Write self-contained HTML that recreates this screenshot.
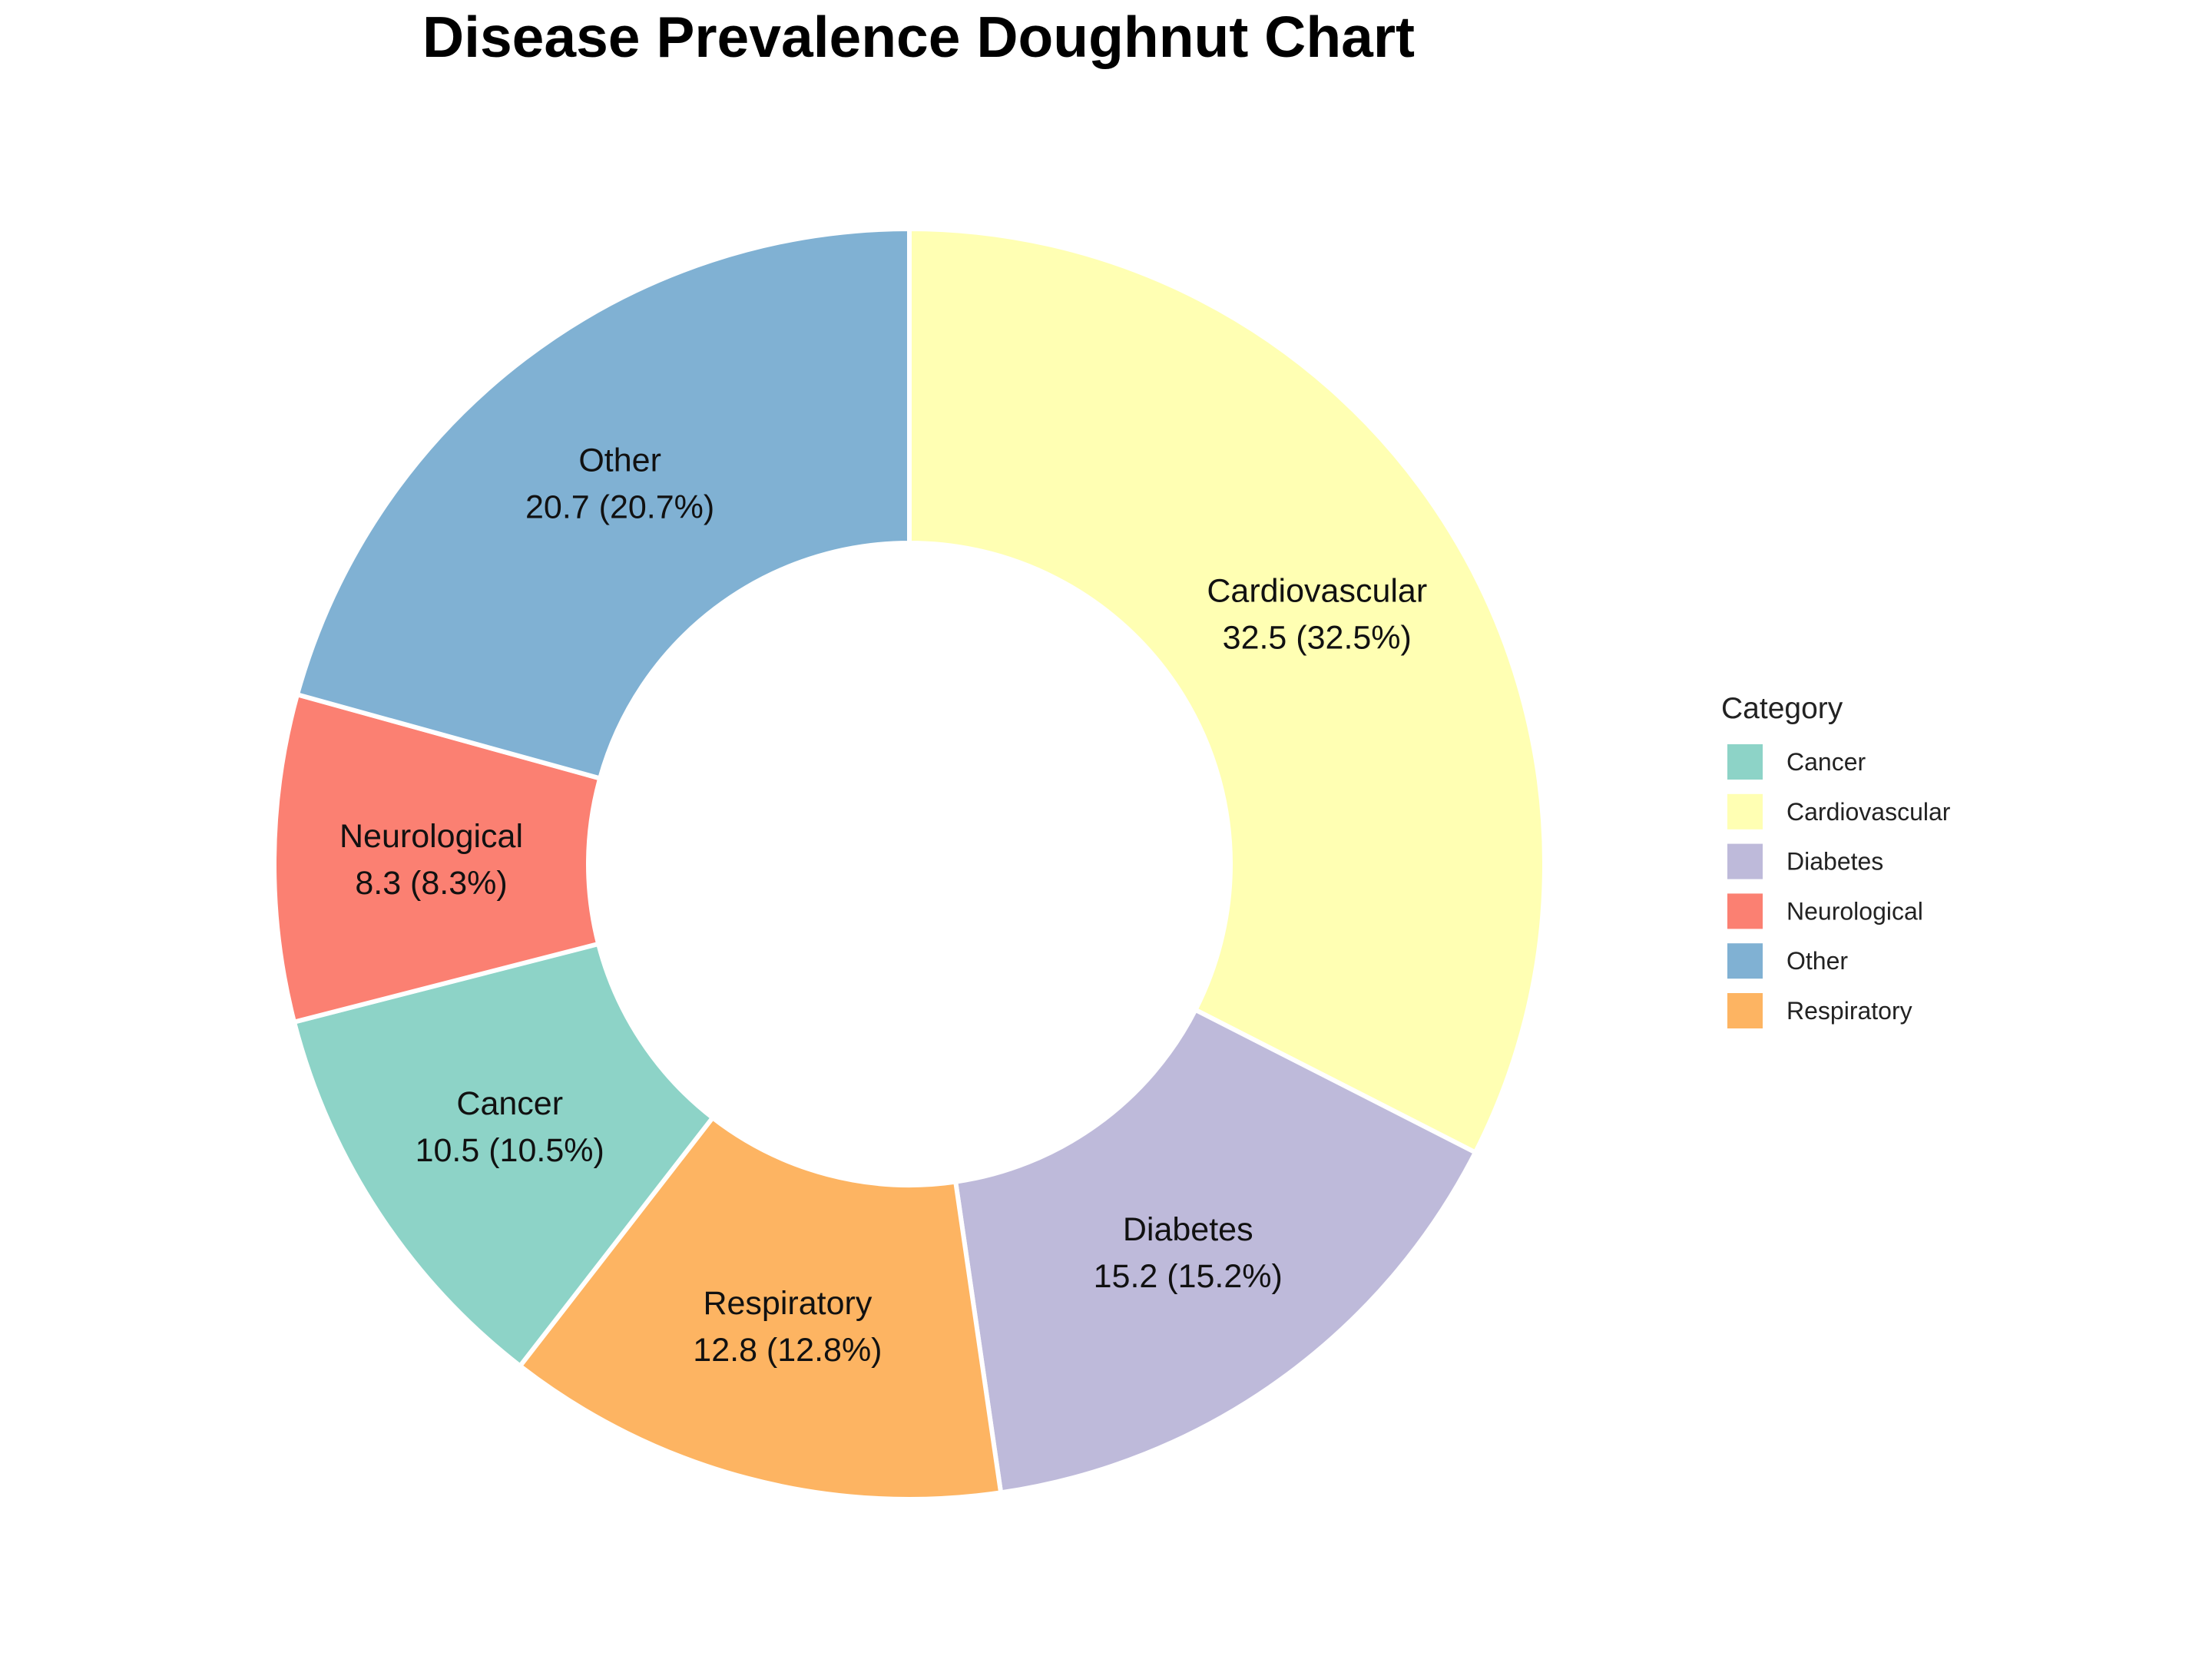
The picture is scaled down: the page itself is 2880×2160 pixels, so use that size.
<!DOCTYPE html>
<html><head><meta charset="utf-8"><style>
html,body{margin:0;padding:0;background:#fff;}
svg{display:block;font-family:"Liberation Sans",Arial,sans-serif;}
</style></head><body>
<svg id="chart" width="2880" height="2160" viewBox="0 0 2880 2160">
<text x="1196" y="74" text-anchor="middle" font-size="75" font-weight="bold" fill="#000">Disease Prevalence Doughnut Chart</text>
<g id="slices"></g>
<g id="labels"></g>
<g id="legend">
<text x="2241" y="935" font-size="39" fill="#222">Category</text>
</g>
</svg>
<script>
const categories = ["Cardiovascular","Diabetes","Respiratory","Cancer","Neurological","Other"];
const values = [32.5,15.2,12.8,10.5,8.3,20.7];
const legendOrder = ["Cancer","Cardiovascular","Diabetes","Neurological","Other","Respiratory"];
const colorMap = {Cancer:"#8dd3c7",Cardiovascular:"#ffffb3",Diabetes:"#bebada",Neurological:"#fb8072",Other:"#80b1d3",Respiratory:"#fdb462"};

const NS="http://www.w3.org/2000/svg";
const cx=1184, cy=1125, R=827, r=418;
const total=values.reduce((a,b)=>a+b,0);
function pt(rad,ang){return [cx+rad*Math.sin(ang), cy-rad*Math.cos(ang)];}
const slicesG=document.getElementById('slices');
const labelsG=document.getElementById('labels');
let a0=0;
values.forEach((v,i)=>{
  const a1=a0+v/total*2*Math.PI;
  const large=(a1-a0)>Math.PI?1:0;
  const [x0,y0]=pt(R,a0),[x1,y1]=pt(R,a1),[x2,y2]=pt(r,a1),[x3,y3]=pt(r,a0);
  const p=document.createElementNS(NS,'path');
  p.setAttribute('d',`M${x0},${y0}A${R},${R} 0 ${large} 1 ${x1},${y1}L${x2},${y2}A${r},${r} 0 ${large} 0 ${x3},${y3}Z`);
  p.setAttribute('fill',colorMap[categories[i]]);
  p.setAttribute('stroke','#fff');
  p.setAttribute('stroke-width','6');
  
  
  slicesG.appendChild(p);
  const am=(a0+a1)/2;
  const [lx,ly]=pt((R+r)/2,am);
  const t=document.createElementNS(NS,'text');
  t.setAttribute('x',lx);t.setAttribute('y',ly-16);
  t.setAttribute('text-anchor','middle');t.setAttribute('font-size','43');t.setAttribute('fill','#111');
  t.textContent=categories[i];
  
  
  labelsG.appendChild(t);
  const t2=document.createElementNS(NS,'text');
  t2.setAttribute('x',lx);t2.setAttribute('y',ly+45);
  t2.setAttribute('text-anchor','middle');t2.setAttribute('font-size','43');t2.setAttribute('fill','#111');
  t2.textContent=v.toFixed(1)+' ('+(v/total*100).toFixed(1)+'%)';
  
  
  labelsG.appendChild(t2);
  a0=a1;
});
const legG=document.getElementById('legend');
legendOrder.forEach((c,i)=>{
  const y=969+i*64.8;
  const g=document.createElementNS(NS,'g');
  
  
  const s=document.createElementNS(NS,'rect');
  s.setAttribute('x',2249);s.setAttribute('y',y);s.setAttribute('width',46);s.setAttribute('height',46);
  s.setAttribute('fill',colorMap[c]);
  
  
  g.appendChild(s);
  const t=document.createElementNS(NS,'text');
  t.setAttribute('x',2326);t.setAttribute('y',y+34);t.setAttribute('font-size','32');t.setAttribute('fill','#222');
  t.textContent=c;
  
  
  g.appendChild(t);
  legG.appendChild(g);
});
</script>
</body></html>
